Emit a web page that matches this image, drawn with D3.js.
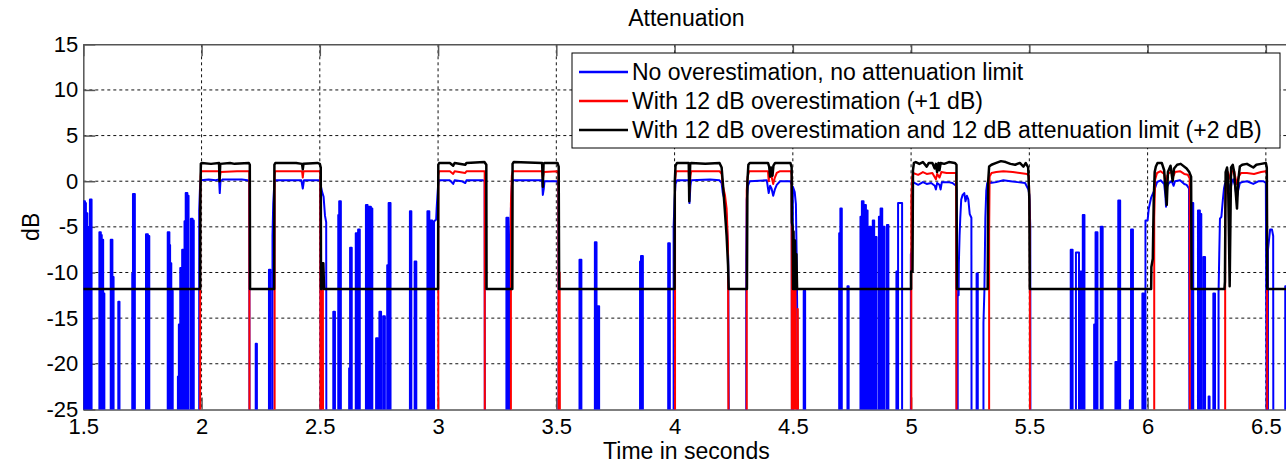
<!DOCTYPE html>
<html lang="en">
<head>
<meta charset="UTF-8">
<title>Attenuation</title>
<script src="https://d3js.org/d3.v7.min.js"></script>
<style>
    body { margin: 0; background: #fff; }
    svg { display: block; font-family: "Liberation Sans", Arial, sans-serif; }
    .grid line { stroke: #111; stroke-width: 1; stroke-dasharray: 3,3; }
    .axis path, .axis line { stroke: #555; stroke-width: 1.5; }
    .axis text { font-size: 22px; fill: #000; }
    .series { fill: none; stroke-linejoin: round; }
    .legend text { font-size: 23px; fill: #000; }
    .label { font-size: 23px; fill: #000; }
</style>
</head>
<body>
<div id="chart"></div>
<script>
const xTicks = [1.5, 2, 2.5, 3, 3.5, 4, 4.5, 5, 5.5, 6, 6.5];
const yTicks = [-25, -20, -15, -10, -5, 0, 5, 10, 15];
const seriesNames = [
    "No overestimation, no attenuation limit",
    "With 12 dB overestimation (+1 dB)",
    "With 12 dB overestimation and 12 dB attenuation limit (+2 dB)"
];
const seriesColors = ["#0000ff", "#ff0000", "#000000"];

const OFF = -40; // below the visible range

// blue: short bursts in the pauses, [time, top dB, duration]
const blueBursts = [
    [1.500, -2.2, 0.007], [1.507, -2.4, 0.004], [1.511, -3.5, 0.006], [1.517, -5.0, 0.004], [1.521, -16.3, 0.003],
    [1.528, -2.0, 0.007],
    [1.568, -5.6, 0.006], [1.574, -5.9, 0.004], [1.578, -6.4, 0.006], [1.584, -12.3, 0.005],
    [1.616, -6.4, 0.007], [1.624, -10.5, 0.004],
    [1.648, -13.2, 0.005],
    [1.707, -10.1, 0.003], [1.710, -1.4, 0.008],
    [1.765, -5.8, 0.008], [1.773, -6.0, 0.006],
    [1.857, -5.6, 0.007], [1.864, -7.0, 0.003], [1.867, -9.0, 0.005], [1.872, -12.0, 0.006],
    [1.900, -21.4, 0.004], [1.904, -15.7, 0.006], [1.910, -9.5, 0.007], [1.918, -7.5, 0.007], [1.928, -4.4, 0.005],
    [1.933, -1.3, 0.007], [1.940, -1.6, 0.005],
    [1.955, -4.1, 0.007], [1.962, -4.3, 0.005],
    [2.229, -17.8, 0.005], [2.285, -9.7, 0.006],
    [2.557, -14.3, 0.007], [2.578, -3.7, 0.004], [2.582, -2.2, 0.007],
    [2.624, -20.5, 0.004], [2.628, -7.3, 0.007],
    [2.652, -5.7, 0.007], [2.662, -5.3, 0.007],
    [2.695, -2.6, 0.007], [2.703, -7.3, 0.004], [2.709, -2.8, 0.007], [2.716, -3.0, 0.006],
    [2.738, -17.2, 0.007], [2.752, -14.3, 0.007], [2.768, -14.8, 0.007], [2.785, -9.2, 0.005], [2.791, -2.4, 0.008],
    [2.881, -3.3, 0.006], [2.901, -8.8, 0.007],
    [2.955, -3.3, 0.008], [2.967, -4.3, 0.008],
    [3.289, -4.0, 0.008],
    [3.598, -8.6, 0.008], [3.663, -6.7, 0.007], [3.674, -13.7, 0.007],
    [3.854, -8.8, 0.004], [3.858, -8.2, 0.008],
    [3.973, -6.8, 0.007],
    [4.546, -12.0, 0.006],
    [4.696, -5.7, 0.005], [4.701, -3.0, 0.006],
    [4.731, -11.5, 0.005],
    [4.786, -3.9, 0.006], [4.792, -2.2, 0.007], [4.802, -2.6, 0.007], [4.810, -3.2, 0.006],
    [4.824, -5.0, 0.006], [4.838, -4.3, 0.006], [4.848, -6.1, 0.006],
    [4.864, -3.9, 0.007], [4.871, -3.0, 0.007], [4.884, -5.0, 0.004],
    [4.898, -4.8, 0.006], [4.938, -9.9, 0.006], [4.945, -2.4, 0.017],
    [5.277, -10.1, 0.005],
    [5.675, -7.5, 0.008], [5.697, -7.8, 0.013], [5.716, -9.9, 0.007], [5.726, -3.7, 0.007],
    [5.774, -15.7, 0.006], [5.780, -5.6, 0.008],
    [5.802, -5.0, 0.008],
    [5.864, -19.8, 0.007], [5.876, -2.1, 0.008],
    [5.925, -24.0, 0.004], [5.930, -5.3, 0.008],
    [5.978, -12.3, 0.007],
    [6.186, -2.4, 0.007], [6.213, -3.2, 0.008], [6.221, -3.6, 0.006], [6.236, -8.3, 0.007],
    [6.258, -23.6, 0.004], [6.278, -12.3, 0.007]
];

// blue: speech segments and other traced shapes, [time, dB]
const blueShapes = [
    [[1.990, OFF], [1.990, -3.2], [1.993, -1.0], [1.996, 0.1], [2.030, 0.2], [2.060, 0.1], [2.074, 0.2], [2.077, -1.3], [2.080, 0.0], [2.090, 0.2], [2.170, 0.2], [2.195, 0.1], [2.202, 0.0], [2.203, OFF]],
    [[2.300, OFF], [2.300, -6.0], [2.303, -2.5], [2.306, -1.0], [2.309, 0.1], [2.400, 0.1], [2.422, 0.1], [2.428, -0.8], [2.433, 0.1], [2.500, 0.1], [2.503, -0.3], [2.504, OFF]],
    [[2.505, OFF], [2.505, -0.6], [2.510, -1.2], [2.516, -1.7], [2.522, -3.8], [2.527, -4.5], [2.528, OFF]],
    [[2.983, OFF], [2.983, -4.4], [2.992, -4.2], [2.994, -3.0], [2.997, -1.7], [3.000, -0.5], [3.003, 0.1], [3.050, 0.1], [3.064, -0.3], [3.070, 0.1], [3.100, 0.0], [3.115, -0.2], [3.120, 0.1], [3.190, 0.1], [3.197, 0.0], [3.198, OFF]],
    [[3.304, OFF], [3.304, -7.5], [3.308, -3.0], [3.312, -0.5], [3.316, 0.1], [3.380, 0.1], [3.440, 0.1], [3.443, -1.5], [3.447, -0.8], [3.450, 0.0], [3.505, 0.0], [3.509, -0.5], [3.510, OFF]],
    [[3.996, OFF], [3.996, -5.0], [4.000, -2.0], [4.004, -0.3], [4.010, 0.1], [4.060, 0.1], [4.063, -2.4], [4.067, -0.5], [4.070, 0.1], [4.150, 0.2], [4.190, 0.1], [4.199, -0.2], [4.204, -1.3], [4.213, -2.2], [4.220, -4.0], [4.227, -8.6], [4.231, OFF]],
    [[4.303, OFF], [4.303, -8.5], [4.305, -2.0], [4.310, -0.5], [4.318, 0.0], [4.390, 0.1], [4.398, -1.3], [4.404, -0.5], [4.410, -0.8], [4.417, -1.6], [4.424, -0.9], [4.432, -0.4], [4.446, 0.0], [4.490, 0.0], [4.495, -0.4], [4.497, OFF]],
    [[4.500, OFF], [4.500, -0.6], [4.508, -1.2], [4.513, -2.5], [4.516, -8.0], [4.519, -15.5], [4.520, OFF]],
    [[4.999, OFF], [4.999, -8.0], [5.003, -7.5], [5.005, -1.5], [5.008, -0.1], [5.016, -0.2], [5.030, -0.4], [5.050, -0.1], [5.066, -0.3], [5.085, -0.2], [5.100, -0.5], [5.105, -0.9], [5.110, -0.2], [5.120, -0.4], [5.125, -0.9], [5.130, -0.1], [5.157, -0.1], [5.175, -0.2], [5.190, -0.5], [5.192, -1.0], [5.193, OFF]],
    [[5.197, OFF], [5.197, -12.5], [5.201, -12.5], [5.202, -9.0], [5.205, -6.0], [5.208, -4.0], [5.212, -2.0], [5.218, -1.5], [5.225, -1.3], [5.230, -2.2], [5.236, -1.6], [5.242, -2.0], [5.248, -3.6], [5.255, -4.0], [5.256, OFF]],
    [[5.306, OFF], [5.306, -15.5], [5.310, -12.0], [5.314, -4.0], [5.318, -1.0], [5.322, -0.2], [5.334, -0.2], [5.360, -0.1], [5.390, 0.1], [5.420, 0.0], [5.450, -0.1], [5.482, -0.2], [5.496, -0.9], [5.500, -1.5], [5.504, -5.0], [5.505, OFF]],
    [[5.991, OFF], [5.991, -4.3], [6.000, -4.3], [6.005, -3.0], [6.015, -1.8], [6.025, -1.2], [6.031, -0.8], [6.040, -0.1], [6.055, 0.1], [6.070, -0.3], [6.075, -1.5], [6.078, -2.8], [6.083, -0.6], [6.090, -0.2], [6.102, 0.0], [6.110, -0.5], [6.116, 0.0], [6.137, 0.1], [6.155, -0.3], [6.165, -0.4], [6.175, -0.8], [6.178, OFF]],
    [[6.300, OFF], [6.300, -12.3], [6.303, -8.0], [6.306, -4.1], [6.312, -3.9], [6.318, -2.1], [6.323, -0.8], [6.327, -0.3], [6.335, 0.1], [6.342, -0.3], [6.350, -1.0], [6.356, -0.1], [6.362, 0.2], [6.370, -0.5], [6.377, -1.9], [6.383, -1.0], [6.390, -0.2], [6.400, -0.1], [6.420, 0.0], [6.447, -0.3], [6.470, 0.0], [6.490, 0.0], [6.500, -0.2], [6.505, OFF]],
    [[6.509, OFF], [6.509, -7.5], [6.513, -6.5], [6.518, -5.3], [6.526, -5.3], [6.531, -6.0], [6.532, OFF]],
    [[6.582, OFF], [6.582, -11.5], [6.595, -11.5], [6.596, OFF]]
];

const red = [
    [1.5, OFF],
    [1.994, OFF], [1.994, -3.0], [1.996, 0.5], [1.998, 1.1], [2.074, 1.1], [2.077, 0.2], [2.080, 1.0], [2.150, 1.1], [2.202, 1.1], [2.203, OFF],
    [2.309, OFF], [2.309, 0.5], [2.311, 1.1], [2.425, 1.1], [2.428, 0.4], [2.431, 1.1], [2.500, 1.1], [2.502, 0.8], [2.503, OFF],
    [2.511, OFF], [2.511, -11.5], [2.513, -11.5], [2.514, OFF],
    [3.001, OFF], [3.001, 0.6], [3.004, 1.1], [3.050, 1.1], [3.064, 0.8], [3.070, 1.1], [3.115, 0.9], [3.120, 1.1], [3.197, 1.1], [3.198, OFF],
    [3.308, OFF], [3.308, -2.5], [3.312, 0.6], [3.316, 1.1], [3.440, 1.1], [3.443, 0.3], [3.447, 1.0], [3.505, 1.1], [3.509, 0.8], [3.510, OFF],
    [3.514, OFF], [3.514, -10.0], [3.516, OFF],
    [4.002, OFF], [4.002, 0.0], [4.006, 1.1], [4.060, 1.1], [4.063, -1.2], [4.067, 0.6], [4.070, 1.1], [4.190, 1.1], [4.199, 0.8], [4.204, -0.5], [4.213, -1.5], [4.220, -3.0], [4.226, -7.0], [4.229, OFF],
    [4.305, OFF], [4.305, -1.0], [4.309, 0.5], [4.315, 1.1], [4.395, 1.1], [4.398, 0.0], [4.402, 1.0], [4.410, 0.5], [4.417, -0.3], [4.424, 0.4], [4.432, 0.9], [4.446, 1.1], [4.492, 1.1], [4.495, 0.7], [4.496, OFF],
    [4.503, OFF], [4.503, -9.0], [4.505, OFF], [4.511, OFF], [4.511, -10.0], [4.514, OFF], [4.521, OFF], [4.521, -14.0], [4.523, OFF],
    [5.001, OFF], [5.001, -2.0], [5.005, 0.5], [5.008, 0.9], [5.030, 0.7], [5.050, 1.0], [5.066, 0.8], [5.090, 0.9], [5.105, 0.2], [5.110, 0.8], [5.120, 0.4], [5.128, 1.0], [5.150, 0.9], [5.190, 0.9], [5.193, OFF],
    [5.330, OFF], [5.330, -5.7], [5.332, 0.5], [5.340, 0.9], [5.360, 1.0], [5.390, 1.1], [5.430, 1.0], [5.460, 0.9], [5.490, 0.8], [5.498, 0.6], [5.502, -5.0], [5.503, OFF],
    [6.028, OFF], [6.028, -4.0], [6.032, 0.2], [6.040, 0.9], [6.055, 1.1], [6.070, 0.8], [6.078, -1.0], [6.083, 0.6], [6.090, 0.9], [6.102, 1.0], [6.110, 0.6], [6.116, 1.0], [6.137, 1.1], [6.155, 0.8], [6.170, 0.7], [6.178, 0.3], [6.179, OFF],
    [6.328, OFF], [6.328, -3.0], [6.333, 0.5], [6.340, 1.0], [6.350, 0.2], [6.356, 1.0], [6.365, 1.2], [6.377, -0.3], [6.385, 0.5], [6.395, 0.9], [6.420, 0.9], [6.450, 0.8], [6.480, 1.0], [6.500, 1.1], [6.505, 0.8], [6.506, OFF],
    [6.6, OFF]
];

const black = [
    [1.5, -11.8],
    [1.994, -11.8], [1.995, -2.0], [1.997, 1.9], [2.000, 2.0], [2.040, 1.9], [2.074, 2.0], [2.076, 0.0], [2.079, 1.9], [2.120, 2.0], [2.140, 1.9], [2.200, 2.0], [2.204, 1.8], [2.205, -11.8],
    [2.307, -11.8], [2.308, 1.8], [2.312, 2.0], [2.400, 2.0], [2.425, 1.9], [2.428, 1.3], [2.431, 1.9], [2.490, 2.0], [2.500, 1.9], [2.504, 1.5], [2.505, -11.8], [2.508, -11.8], [2.509, -9.0], [2.515, -9.0], [2.518, -11.8],
    [3.000, -11.8], [3.001, 1.8], [3.005, 2.0], [3.050, 2.0], [3.064, 1.7], [3.070, 2.0], [3.115, 1.8], [3.120, 2.0], [3.196, 2.1], [3.204, 1.8], [3.205, -11.8],
    [3.314, -11.8], [3.315, 1.9], [3.320, 2.1], [3.440, 2.0], [3.443, -0.6], [3.446, 1.9], [3.450, 2.0], [3.505, 2.0], [3.510, 1.6], [3.512, -11.8],
    [4.000, -11.8], [4.001, 0.0], [4.004, 1.7], [4.010, 2.0], [4.060, 2.0], [4.062, -2.2], [4.066, 1.9], [4.070, 2.0], [4.130, 1.9], [4.190, 2.0], [4.199, 1.5], [4.205, -0.5], [4.212, -3.0], [4.220, -6.0], [4.226, -9.2], [4.229, -11.8],
    [4.306, -11.8], [4.308, 0.0], [4.312, 1.8], [4.318, 2.0], [4.395, 2.0], [4.400, 1.6], [4.404, 0.5], [4.408, 1.5], [4.414, 0.6], [4.418, 1.7], [4.425, 2.0], [4.490, 2.0], [4.495, 1.5], [4.496, -4.5], [4.499, -5.0], [4.501, -11.8], [4.503, -5.5], [4.506, -11.8], [4.509, -6.5], [4.512, -11.8], [4.515, -8.0], [4.518, -11.8],
    [5.000, -11.8], [5.000, -9.9], [5.006, -9.9], [5.008, 1.2], [5.012, 2.0], [5.020, 2.1], [5.035, 1.9], [5.050, 2.1], [5.066, 1.6], [5.075, 2.0], [5.090, 2.0], [5.100, 1.4], [5.105, 1.9], [5.110, 1.0], [5.116, 2.0], [5.120, 1.2], [5.125, 2.0], [5.140, 1.9], [5.160, 2.1], [5.185, 2.0], [5.192, 1.8], [5.194, -11.8],
    [5.324, -11.8], [5.326, 0.0], [5.330, 1.6], [5.340, 1.8], [5.360, 2.0], [5.380, 2.2], [5.400, 2.1], [5.420, 1.9], [5.440, 1.8], [5.460, 2.0], [5.475, 1.6], [5.485, 2.0], [5.495, 1.5], [5.500, -2.0], [5.502, -11.8],
    [6.015, -11.8], [6.016, -9.4], [6.022, -8.5], [6.026, -2.0], [6.030, 1.0], [6.035, 1.6], [6.042, 2.0], [6.060, 2.0], [6.070, 1.2], [6.076, -1.0], [6.081, -2.6], [6.086, 1.0], [6.097, 1.7], [6.106, 0.0], [6.112, 1.4], [6.125, 1.8], [6.140, 1.9], [6.165, 1.4], [6.176, 1.0], [6.184, 0.5], [6.186, -11.8],
    [6.325, -11.8], [6.327, -11.0], [6.330, 1.0], [6.336, 1.5], [6.340, 0.5], [6.344, -6.0], [6.347, -11.5], [6.350, -5.0], [6.353, 1.5], [6.360, 1.8], [6.366, 1.0], [6.372, -1.0], [6.378, -3.0], [6.383, 0.0], [6.390, 1.6], [6.400, 1.8], [6.420, 1.9], [6.447, 1.5], [6.460, 1.8], [6.480, 1.9], [6.500, 2.0], [6.504, 1.5], [6.506, -11.8],
    [6.6, -11.8]
];

var width = 1286, height = 464;
var plotL = 83.3, plotT = 44.3, plotR = 1289.5, plotB = 409.4;

var x = d3.scaleLinear().domain([1.5, 6.6]).range([plotL, plotR]);
var y = d3.scaleLinear().domain([-25, 15]).range([plotB, plotT]);

var blue = blueBursts
    .map(([t, v, w]) => [[t, OFF], [t, v], [t + w, v], [t + w, OFF]])
    .concat(blueShapes)
    .sort((a, b) => a[0][0] - b[0][0])
    .flat();

var svg = d3.select("#chart").append("svg")
    .attr("width", width)
    .attr("height", height);

svg.append("defs").append("clipPath").attr("id", "plot")
    .append("rect")
    .attr("x", plotL).attr("y", plotT)
    .attr("width", plotR - plotL).attr("height", plotB - plotT);

// grid
var grid = svg.append("g").attr("class", "grid");
grid.selectAll(".gx").data(xTicks.slice(1)).enter().append("line")
    .attr("x1", d => x(d)).attr("x2", d => x(d))
    .attr("y1", plotT).attr("y2", plotB);
grid.selectAll(".gy").data(yTicks.slice(1, -1)).enter().append("line")
    .attr("x1", plotL).attr("x2", plotR)
    .attr("y1", d => y(d)).attr("y2", d => y(d));

// axes
var plain = d => String(d);
svg.append("g").attr("class", "axis")
    .attr("transform", `translate(0,${plotB})`)
    .call(d3.axisBottom(x).tickValues(xTicks).tickSizeInner(-12).tickSizeOuter(0).tickPadding(9).tickFormat(plain));
svg.append("g").attr("class", "axis")
    .attr("transform", `translate(0,${plotT})`)
    .call(d3.axisTop(x).tickValues(xTicks).tickSizeInner(-12).tickSizeOuter(0).tickFormat(""));
svg.append("g").attr("class", "axis")
    .attr("transform", `translate(${plotL},0)`)
    .call(d3.axisLeft(y).tickValues(yTicks).tickSizeInner(-12).tickSizeOuter(0).tickPadding(5).tickFormat(plain));

// data
var line = d3.line().x(d => x(d[0])).y(d => y(d[1]));
var plot = svg.append("g").attr("clip-path", "url(#plot)");
[blue, red, black].forEach((data, i) => {
    plot.append("path")
        .datum(data)
        .attr("class", "series")
        .attr("d", line)
        .attr("stroke", seriesColors[i])
        .attr("stroke-width", i == 2 ? 2.5 : 2);
});

// legend
var legend = svg.append("g").attr("class", "legend");
legend.append("rect")
    .attr("x", 572).attr("y", 53)
    .attr("width", 708).attr("height", 95)
    .attr("fill", "#fff").attr("stroke", "#000").attr("stroke-width", 1);
seriesNames.forEach((name, i) => {
    var ly = 72 + i * 29;
    legend.append("line")
        .attr("x1", 579).attr("x2", 628)
        .attr("y1", ly).attr("y2", ly)
        .attr("stroke", seriesColors[i]).attr("stroke-width", 2.5);
    legend.append("text")
        .attr("x", 632).attr("y", ly)
        .attr("dy", "0.35em")
        .text(name);
});

// labels
svg.append("text").attr("class", "label")
    .attr("x", (plotL + plotR) / 2).attr("y", 26)
    .attr("text-anchor", "middle")
    .text("Attenuation");
svg.append("text").attr("class", "label")
    .attr("x", (plotL + plotR) / 2).attr("y", 459)
    .attr("text-anchor", "middle")
    .text("Time in seconds");
svg.append("text").attr("class", "label")
    .attr("transform", `translate(39,${(plotT + plotB) / 2}) rotate(-90)`)
    .attr("text-anchor", "middle")
    .text("dB");
</script>
</body>
</html>
